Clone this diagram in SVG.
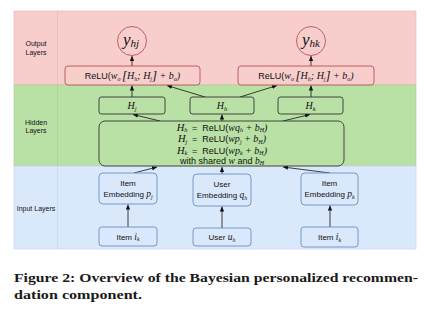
<svg xmlns="http://www.w3.org/2000/svg" width="431" height="316" viewBox="0 0 431 316">
<style>
.lbl{font-family:"Liberation Sans",Arial,sans-serif;font-size:7px;fill:#111;text-anchor:middle}
.sans{font-family:"Liberation Sans",Arial,sans-serif;font-size:8px;fill:#111}
.eq{font-family:"Liberation Sans",Arial,sans-serif;font-size:9px;fill:#111}
.m{font-family:"Liberation Serif","Times New Roman",serif;font-style:italic}
.mid{text-anchor:middle}
.red{fill:#f8cecc;stroke:#b85450;stroke-width:0.9}
.grn{fill:#b9e0a5;stroke:#333;stroke-width:0.9}
.blu{fill:#dae8fc;stroke:#6c8ebf;stroke-width:0.9}
.con{stroke:#111;stroke-width:0.8;fill:none;marker-end:url(#ah)}
.cap{font-family:"Liberation Serif","Times New Roman",serif;font-weight:bold;font-size:13.5px;fill:#1a1a1a}
</style>
<defs>
<marker id="ah" markerWidth="6" markerHeight="6" refX="5" refY="3" orient="auto" markerUnits="userSpaceOnUse">
<path d="M0,0.8 L5,3 L0,5.2 Z" fill="#111"/>
</marker>
</defs>
<rect width="431" height="316" fill="#fff"/>
<g id="bands">
<rect x="14" y="11" width="402" height="74" fill="#f8cecc" stroke="#e8b4b2" stroke-width="0.6"/>
<rect x="14" y="85" width="402" height="81" fill="#b9e0a5" stroke="#a8d092" stroke-width="0.6"/>
<rect x="14" y="166" width="402" height="83" fill="#dae8fc" stroke="#c2d4ee" stroke-width="0.6"/>
<line x1="57.5" y1="11" x2="57.5" y2="85" stroke="#e8b4b2" stroke-width="0.6"/>
<line x1="57.5" y1="85" x2="57.5" y2="166" stroke="#a8d092" stroke-width="0.6"/>
<line x1="57.5" y1="166" x2="57.5" y2="249" stroke="#c2d4ee" stroke-width="0.6"/>
<text class="lbl" x="36" y="46">Output</text>
<text class="lbl" x="36" y="55">Layers</text>
<text class="lbl" x="36" y="125">Hidden</text>
<text class="lbl" x="36" y="133">Layers</text>
<text class="lbl" x="36" y="211">Input Layers</text>
</g>
<g id="connectors">
<line class="con" x1="128" y1="227" x2="128" y2="204.5"/>
<line class="con" x1="222" y1="228" x2="222" y2="206.5"/>
<line class="con" x1="330" y1="227" x2="330" y2="205.5"/>
<line class="con" x1="134" y1="173" x2="157" y2="167"/>
<line class="con" x1="222" y1="174" x2="222" y2="167"/>
<line class="con" x1="330" y1="173" x2="283" y2="167"/>
<line class="con" x1="160" y1="121" x2="133" y2="114.5"/>
<line class="con" x1="222" y1="121" x2="222" y2="114.5"/>
<line class="con" x1="283" y1="121" x2="310" y2="114.5"/>
<line class="con" x1="132" y1="97" x2="132" y2="85.5"/>
<line class="con" x1="205" y1="97" x2="167" y2="85.5"/>
<line class="con" x1="240" y1="97" x2="277" y2="85.5"/>
<line class="con" x1="311" y1="97" x2="311" y2="85.5"/>
<line class="con" x1="132" y1="66" x2="132" y2="56"/>
<line class="con" x1="311" y1="66" x2="311" y2="56"/>
</g>
<g id="y_hj">
<circle class="red" cx="132" cy="41" r="14.5"/>
<text class="m" x="131" y="45" font-size="17" text-anchor="middle" fill="#111">y<tspan font-size="11" dy="2">hj</tspan></text>
</g>
<g id="y_hk">
<circle class="red" cx="311" cy="41" r="14.5"/>
<text class="m" x="311" y="45" font-size="17" text-anchor="middle" fill="#111">y<tspan font-size="11" dy="2">hk</tspan></text>
</g>
<g id="relu_left">
<rect class="red" x="65" y="66" width="135" height="19" rx="3"/>
<text class="eq mid" x="132.5" y="79">ReLU(<tspan class="m" font-size="10">w</tspan><tspan class="m" font-size="6" dy="1.5">o</tspan><tspan class="m" dy="-0.5" dx="1.5" font-size="13">[</tspan><tspan class="m" font-size="10" dy="-1">H</tspan><tspan class="m" font-size="6" dy="1.5">h</tspan><tspan class="m" dy="-1.5" font-size="10">; H</tspan><tspan class="m" font-size="6" dy="1.5">j</tspan><tspan class="m" dy="-0.5" font-size="13">]</tspan><tspan class="m" font-size="10" dx="2.5" dy="-1">+ b</tspan><tspan class="m" font-size="6" dy="1.5">o</tspan><tspan class="m" dy="-1.5" font-size="10">)</tspan></text>
</g>
<g id="relu_right">
<rect class="red" x="238" y="66" width="136" height="19" rx="3"/>
<text class="eq mid" x="306" y="79">ReLU(<tspan class="m" font-size="10">w</tspan><tspan class="m" font-size="6" dy="1.5">o</tspan><tspan class="m" dy="-0.5" dx="1.5" font-size="13">[</tspan><tspan class="m" font-size="10" dy="-1">H</tspan><tspan class="m" font-size="6" dy="1.5">h</tspan><tspan class="m" dy="-1.5" font-size="10">; H</tspan><tspan class="m" font-size="6" dy="1.5">j</tspan><tspan class="m" dy="-0.5" font-size="13">]</tspan><tspan class="m" font-size="10" dx="2.5" dy="-1">+ b</tspan><tspan class="m" font-size="6" dy="1.5">o</tspan><tspan class="m" dy="-1.5" font-size="10">)</tspan></text>
</g>
<g id="H_j">
<rect class="grn" x="99" y="97" width="66" height="17" rx="2.5"/>
<text class="m mid" x="132" y="109" font-size="10" fill="#111">H<tspan font-size="6.5" dy="1.5">j</tspan></text>
</g>
<g id="H_h">
<rect class="grn" x="190" y="97" width="64" height="17" rx="2.5"/>
<text class="m mid" x="222" y="109" font-size="10" fill="#111">H<tspan font-size="6.5" dy="1.5">h</tspan></text>
</g>
<g id="H_k">
<rect class="grn" x="278" y="97" width="65" height="17" rx="2.5"/>
<text class="m mid" x="310.5" y="109" font-size="10" fill="#111">H<tspan font-size="6.5" dy="1.5">k</tspan></text>
</g>
<g id="hidden_eq">
<rect class="grn" x="99" y="121" width="245" height="45" rx="6"/>
<text class="eq mid" x="222" y="130.5"><tspan class="m" font-size="10.5">H</tspan><tspan class="m" font-size="6.5" dy="1.5">h</tspan><tspan dy="-1.5" dx="4.5">=</tspan><tspan dx="5">ReLU(</tspan><tspan class="m" font-size="10">wq</tspan><tspan class="m" font-size="6" dy="1.5">h</tspan><tspan class="m" font-size="10" dy="-1.5" dx="2.5">+ b</tspan><tspan class="m" font-size="6" dy="1.5">H</tspan><tspan class="m" font-size="10" dy="-1.5">)</tspan></text>
<text class="eq mid" x="222" y="142"><tspan class="m" font-size="10.5">H</tspan><tspan class="m" font-size="6.5" dy="1.5">j</tspan><tspan dy="-1.5" dx="4.5">=</tspan><tspan dx="5">ReLU(</tspan><tspan class="m" font-size="10">wp</tspan><tspan class="m" font-size="6" dy="1.5">j</tspan><tspan class="m" font-size="10" dy="-1.5" dx="2.5">+ b</tspan><tspan class="m" font-size="6" dy="1.5">H</tspan><tspan class="m" font-size="10" dy="-1.5">)</tspan></text>
<text class="eq mid" x="222" y="153.5"><tspan class="m" font-size="10.5">H</tspan><tspan class="m" font-size="6.5" dy="1.5">k</tspan><tspan dy="-1.5" dx="4.5">=</tspan><tspan dx="5">ReLU(</tspan><tspan class="m" font-size="10">wp</tspan><tspan class="m" font-size="6" dy="1.5">k</tspan><tspan class="m" font-size="10" dy="-1.5" dx="2.5">+ b</tspan><tspan class="m" font-size="6" dy="1.5">H</tspan><tspan class="m" font-size="10" dy="-1.5">)</tspan></text>
<text class="eq mid" x="222" y="163.5" font-size="8.5">with shared <tspan class="m" font-size="9.5">w</tspan> and <tspan class="m" font-size="9.5">b</tspan><tspan class="m" font-size="6" dy="1.5">H</tspan></text>
</g>
<g id="emb_pj">
<rect class="blu" x="99" y="173" width="58" height="31" rx="4"/>
<text class="sans mid" x="128" y="186">Item</text>
<text class="sans mid" x="128" y="197">Embedding <tspan class="m" font-size="9.5">p</tspan><tspan class="m" font-size="6" dy="1.5">j</tspan></text>
</g>
<g id="emb_qh">
<rect class="blu" x="193" y="174" width="58" height="32" rx="4"/>
<text class="sans mid" x="222" y="187">User</text>
<text class="sans mid" x="222" y="198">Embedding <tspan class="m" font-size="9.5">q</tspan><tspan class="m" font-size="6" dy="1.5">h</tspan></text>
</g>
<g id="emb_pk">
<rect class="blu" x="301" y="173" width="57" height="32" rx="4"/>
<text class="sans mid" x="329.5" y="186">Item</text>
<text class="sans mid" x="329.5" y="197">Embedding <tspan class="m" font-size="9.5">p</tspan><tspan class="m" font-size="6" dy="1.5">k</tspan></text>
</g>
<g id="item_left">
<rect class="blu" x="99" y="227" width="58" height="19" rx="3"/>
<text class="sans mid" x="128" y="239.5">Item <tspan class="m" font-size="9.5">i</tspan><tspan class="m" font-size="6" dy="1.5">k</tspan></text>
</g>
<g id="user">
<rect class="blu" x="193" y="228" width="58" height="18" rx="3"/>
<text class="sans mid" x="222" y="240">User <tspan class="m" font-size="9.5">u</tspan><tspan class="m" font-size="6" dy="1.5">h</tspan></text>
</g>
<g id="item_right">
<rect class="blu" x="301" y="227" width="57" height="20" rx="3"/>
<text class="sans mid" x="329.5" y="240">Item <tspan class="m" font-size="9.5">i</tspan><tspan class="m" font-size="6" dy="1.5">k</tspan></text>
</g>
<g id="caption">
<text class="cap" x="14" y="282" textLength="404" lengthAdjust="spacingAndGlyphs">Figure 2: Overview of the Bayesian personalized recommen-</text>
<text class="cap" x="14" y="299" textLength="128" lengthAdjust="spacingAndGlyphs">dation component.</text>
</g>
</svg>
